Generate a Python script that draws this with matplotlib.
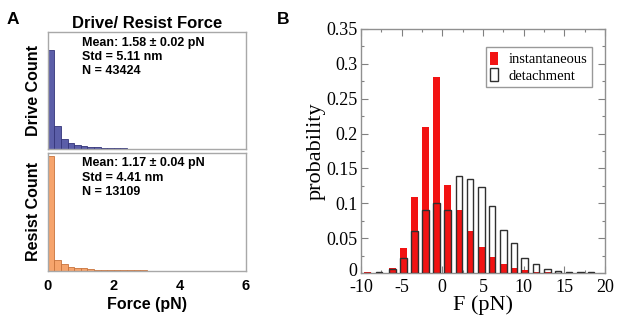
import matplotlib
matplotlib.use("Agg")
import matplotlib.pyplot as plt
import matplotlib.transforms as mtransforms
from matplotlib.patches import Patch
from matplotlib.ticker import MultipleLocator
import numpy as np

plt.rcParams["axes.unicode_minus"] = False

# ---------------- Panel A data (relative counts, bin width 0.2 pN) ----------------
bin_width_a = 0.2
drive_heights = [0.846, 0.195, 0.085, 0.052, 0.036, 0.026, 0.018, 0.013, 0.010, 0.008,
                 0.006, 0.005, 0.004, 0.003, 0.002, 0.002, 0.001, 0.001, 0.001, 0.0,
                 0.0, 0.0, 0.0, 0.0, 0.0, 0.0, 0.0, 0.0, 0.0, 0.0]
resist_heights = [0.972, 0.090, 0.054, 0.034, 0.027, 0.020, 0.014, 0.010, 0.008, 0.006,
                  0.005, 0.004, 0.003, 0.002, 0.002, 0.001, 0.001, 0.001, 0.0, 0.0,
                  0.0, 0.0, 0.0, 0.0, 0.0, 0.0, 0.0, 0.0, 0.0, 0.0]
drive_text = "Mean: 1.58 \u00b1 0.02 pN\nStd = 5.11 nm\nN = 43424"
resist_text = "Mean: 1.17 \u00b1 0.04 pN\nStd = 4.41 nm\nN = 13109"
a_xticks = [0, 2, 4, 6]

# ---------------- Panel B data ----------------
force_centers = [-9.2, -7.8, -6.15, -4.76, -3.4, -2.05, -0.7, 0.66, 2.05, 3.4, 4.8,
                 6.1, 7.5, 8.8, 10.1, 11.5, 12.9, 14.2, 15.6, 17.0, 18.3]
instantaneous = [0.001, 0.0005, 0.007, 0.036, 0.109, 0.209, 0.281, 0.126, 0.090, 0.060,
                 0.037, 0.023, 0.013, 0.007, 0.004, 0.002, 0.001, 0.0005, 0.0, 0.0, 0.0]
detachment = [0.0, 0.001, 0.006, 0.022, 0.060, 0.091, 0.100, 0.090, 0.139, 0.135,
              0.123, 0.096, 0.061, 0.043, 0.021, 0.013, 0.006, 0.0035, 0.001, 0.001, 0.001]
b_xticks = [-10, -5, 0, 5, 10, 15, 20]
b_yticks = [0, 0.05, 0.1, 0.15, 0.2, 0.25, 0.3, 0.35]
b_yticklabels = ["0", "0.05", "0.1", "0.15", "0.2", "0.25", "0.3", "0.35"]

fig = plt.figure(figsize=(6.17, 3.19), dpi=100)
sans = "Liberation Sans"
serif = "Liberation Serif"
spine_grey = "#a8a8a8"

# ---- Panel A axes ----
axA1 = fig.add_axes([0.0773, 0.5329, 0.3214, 0.3668])
axA2 = fig.add_axes([0.0773, 0.1514, 0.3214, 0.3699])
edges = np.arange(len(drive_heights)) * bin_width_a

axA1.bar(edges, drive_heights, width=bin_width_a, align="edge",
         color="#5b5ea8", edgecolor="#34357a", linewidth=0.6)
axA2.bar(edges, resist_heights, width=bin_width_a, align="edge",
         color="#f6a46c", edgecolor="#c8733c", linewidth=0.6)

for ax in (axA1, axA2):
    ax.set_xlim(0, 6)
    ax.set_ylim(0, 1.0)
    ax.set_yticks([])
    for s in ax.spines.values():
        s.set_color(spine_grey)
        s.set_linewidth(1.0)
axA1.set_xticks([])
axA2.set_xticks(a_xticks)
axA2.tick_params(axis="x", length=0, pad=6)
for lab in axA2.get_xticklabels():
    lab.set_fontfamily(sans)
    lab.set_fontweight("bold")
    lab.set_fontsize(10.5)

axA1.set_ylabel("Drive Count", fontfamily=sans, fontweight="bold", fontsize=11.5, labelpad=5)
axA2.set_ylabel("Resist Count", fontfamily=sans, fontweight="bold", fontsize=11.5, labelpad=5)
axA2.set_xlabel("Force (pN)", fontfamily=sans, fontweight="bold", fontsize=11.5, labelpad=3)
axA1.set_title("Drive/ Resist Force", fontfamily=sans, fontweight="bold", fontsize=12, pad=3)

axA1.text(0.175, 0.96, drive_text, transform=axA1.transAxes, ha="left", va="top",
          fontfamily=sans, fontweight="bold", fontsize=9, linespacing=1.25)
axA2.text(0.175, 0.96, resist_text, transform=axA2.transAxes, ha="left", va="top",
          fontfamily=sans, fontweight="bold", fontsize=9, linespacing=1.25)

fig.text(0.021, 0.94, "A", fontfamily=sans, fontweight="bold", fontsize=12.5, ha="center", va="center")
fig.text(0.459, 0.94, "B", fontfamily=sans, fontweight="bold", fontsize=12.5, ha="center", va="center")

# ---- Panel B ----
axB = fig.add_axes([0.585, 0.1442, 0.3956, 0.7649])
bw = 0.8
axB.bar(force_centers, instantaneous, width=bw, color="#f21313", edgecolor="none",
        zorder=2, label="instantaneous")
axB.bar(force_centers, detachment, width=bw, facecolor="none", edgecolor="#303030",
        linewidth=1.0, zorder=3, label="detachment")
axB.set_xlim(-10, 20)
axB.set_ylim(0, 0.35)
axB.set_xticks(b_xticks)
axB.set_yticks(b_yticks)
axB.set_yticklabels(b_yticklabels)
axB.xaxis.set_minor_locator(MultipleLocator(2.5))
axB.yaxis.set_minor_locator(MultipleLocator(0.025))
axB.tick_params(which="both", direction="in", top=True, right=True, color="#808080")
axB.tick_params(which="major", length=5, width=0.8, labelsize=13, pad=2.5)
axB.tick_params(axis="x", which="major", pad=4.5)
axB.tick_params(which="minor", length=2.5, width=0.8)
for lab in axB.get_xticklabels() + axB.get_yticklabels():
    lab.set_fontfamily(serif)
# nudge the y "0" label up a little so it does not collide with "-10"
zero_lab = axB.get_yticklabels()[0]
zero_lab.set_transform(zero_lab.get_transform() +
                       mtransforms.ScaledTranslation(0, 2.5 / 72, fig.dpi_scale_trans))
for s in axB.spines.values():
    s.set_color("#909090")
    s.set_linewidth(1.0)
axB.set_xlabel("F (pN)", fontfamily=serif, fontsize=16, labelpad=-1)
axB.set_ylabel("probability", fontfamily=serif, fontsize=16, labelpad=0)

handles = [Patch(facecolor="#f21313", edgecolor="none"),
           Patch(facecolor="white", edgecolor="#303030", linewidth=1.0)]
leg = axB.legend(handles, ["instantaneous", "detachment"], loc="upper right",
                 bbox_to_anchor=(0.945, 0.925), prop={"family": serif, "size": 10.5},
                 frameon=True, fancybox=False, handlelength=0.55, handleheight=1.0,
                 handletextpad=0.7, borderpad=0.3, labelspacing=0.15, borderaxespad=0)
leg.get_frame().set_edgecolor("#808080")
leg.get_frame().set_linewidth(1.0)

fig.savefig("out.png", dpi=100)
